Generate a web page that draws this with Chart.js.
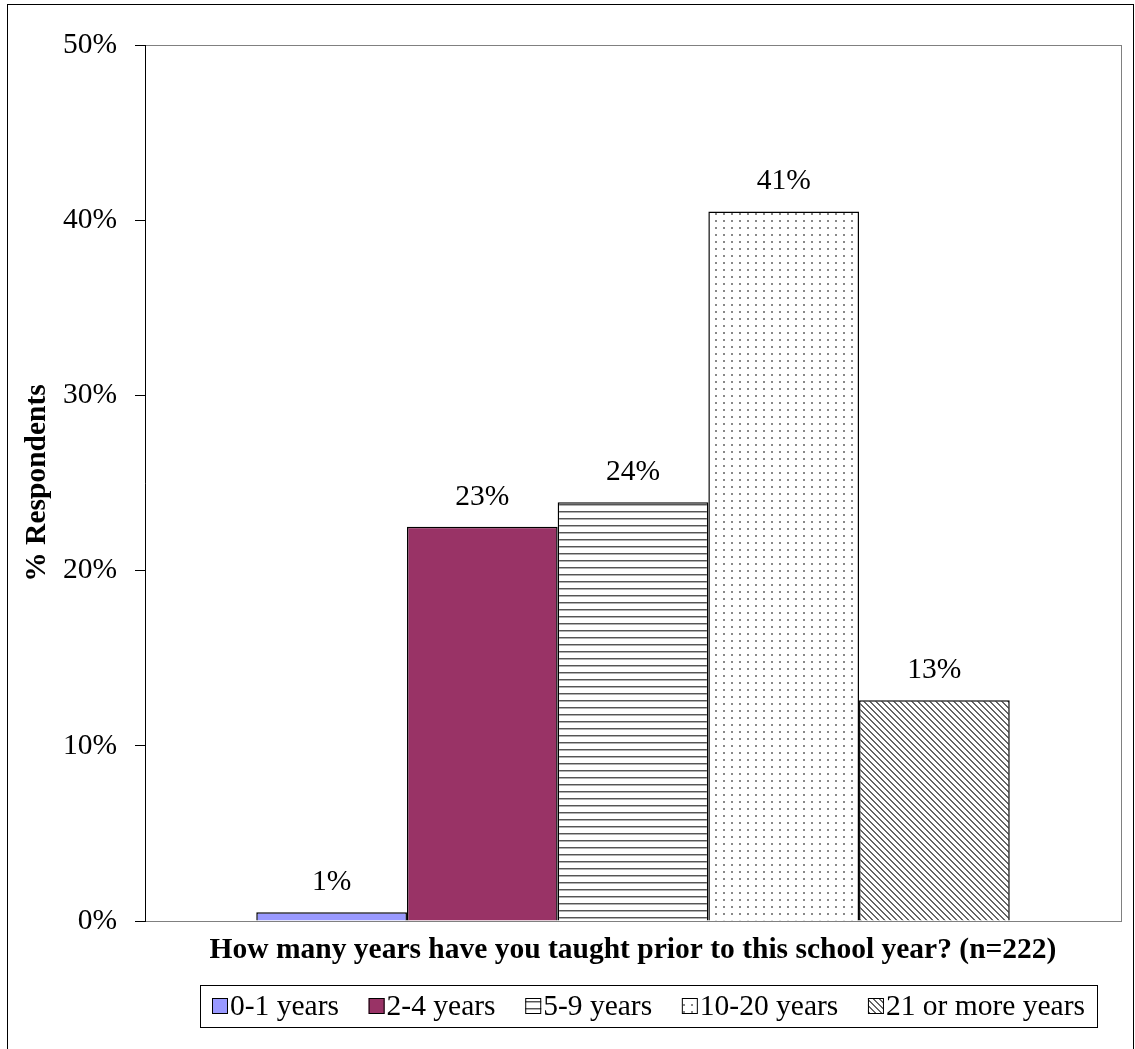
<!DOCTYPE html>
<html lang="en">
<head>
<meta charset="UTF-8" />
<title>Years taught prior to this school year</title>
<script src="https://cdn.jsdelivr.net/npm/chart.js@4/dist/chart.umd.min.js"></script>
<style>
  html, body { margin: 0; padding: 0; background: #fff; }
  #wrap { width: 1135px; height: 1049px; position: relative; }
</style>
</head>
<body>
<div id="wrap"><canvas id="chart" width="1135" height="1049"></canvas></div>
<script>
const categories = ['0-1 years', '2-4 years', '5-9 years', '10-20 years', '21 or more years'];
const percents = [0.5, 22.5, 23.9, 40.5, 12.6];
const yTicks = [0, 10, 20, 30, 40, 50];
const xTitle = 'How many years have you taught prior to this school year? (n=222)';
const yTitle = '% Respondents';

const FONT = '"Liberation Serif", "Times New Roman", serif';
const FS = 29.5;

function makePattern(w, h, draw) {
  const c = document.createElement('canvas');
  c.width = w; c.height = h;
  const g = c.getContext('2d');
  g.fillStyle = '#fff';
  g.fillRect(0, 0, w, h);
  draw(g);
  return document.createElement('canvas').getContext('2d').createPattern(c, 'repeat');
}

const hLines = makePattern(8, 7, (g) => {
  g.fillStyle = '#555'; g.fillRect(0, 0, 8, 1);
  g.fillStyle = '#b0b0b0'; g.fillRect(0, 1, 8, 1);
});
const dots = makePattern(8, 7, (g) => {
  g.fillStyle = '#888'; g.fillRect(3, 3, 2, 2);
});
const diag = makePattern(6, 6, (g) => {
  g.fillStyle = '#666';
  for (let i = 0; i < 6; i++) {
    g.fillRect(i, i, 1, 1);
    g.fillRect((i + 1) % 6, i, 1, 1);
  }
});

const fills = ['#9999ff', '#993366', hLines, dots, diag];

const frame = {
  id: 'frame',
  beforeDraw(chart) {
    const { ctx, chartArea: a } = chart;
    ctx.save();
    ctx.strokeStyle = '#000';
    ctx.lineWidth = 1;
    ctx.strokeRect(7.5, 4.5, 1126, 1080);
    ctx.strokeStyle = '#808080';
    ctx.strokeRect(a.left + 0.5, a.top + 0.5, a.right - a.left, a.bottom - a.top);
    ctx.restore();
  },
  afterDatasetsDraw(chart) {
    const { ctx } = chart;
    ctx.save();
    ctx.font = FS + 'px ' + FONT;
    ctx.fillStyle = '#000';
    ctx.textAlign = 'center';
    ctx.textBaseline = 'middle';
    chart.data.datasets.forEach((ds, i) => {
      const bar = chart.getDatasetMeta(i).data[0];
      ctx.fillText(Math.round(ds.data[0]) + '%', bar.x, bar.y - 30);
    });
    ctx.restore();
  },
  afterDraw(chart) {
    const { ctx } = chart;
    const left = 200, right = 1097, top = 985, bottom = 1027;
    ctx.save();
    ctx.fillStyle = '#fff';
    ctx.strokeStyle = '#000';
    ctx.lineWidth = 1;
    ctx.fillRect(left, top, right - left, bottom - top);
    ctx.strokeRect(left + 0.5, top + 0.5, right - left, bottom - top);
    ctx.font = FS + 'px ' + FONT;
    ctx.textBaseline = 'middle';
    const box = 16, gapText = 2, pad = 12;
    const widths = categories.map((c) => box + gapText + ctx.measureText(c).width);
    const total = widths.reduce((s, w) => s + w, 0);
    const gap = (right - left - 2 * pad - total) / (categories.length - 1);
    let x = left + pad;
    const cy = (top + bottom) / 2;
    categories.forEach((c, i) => {
      ctx.fillStyle = fills[i];
      ctx.fillRect(x, cy - box / 2, box, box);
      ctx.strokeStyle = '#000';
      ctx.strokeRect(x + 0.5, cy - box / 2 + 0.5, box - 1, box - 1);
      ctx.fillStyle = '#000';
      ctx.fillText(c, x + box + gapText, cy + 1);
      x += widths[i] + gap;
    });
    ctx.restore();
  }
};

new Chart(document.getElementById('chart'), {
  type: 'bar',
  data: {
    labels: [''],
    datasets: categories.map((c, i) => ({
      label: c,
      data: [percents[i]],
      backgroundColor: fills[i],
      borderColor: '#000',
      borderWidth: 1.5,
      categoryPercentage: 0.772,
      barPercentage: 1,
    })),
  },
  options: {
    responsive: false,
    animation: false,
    layout: { padding: { top: 45, right: 14, bottom: 68, left: 0 } },
    plugins: {
      legend: { display: false },
      tooltip: { enabled: false },
    },
    scales: {
      x: {
        grid: { display: false },
        border: { color: '#808080' },
        ticks: { display: false },
        afterFit(scale) { scale.height = 60; },
        title: {
          display: true,
          text: xTitle,
          color: '#000',
          font: { family: FONT, size: FS, weight: 'bold' },
          padding: { top: 0, bottom: 13 },
        },
      },
      y: {
        min: 0,
        max: 50,
        afterBuildTicks(scale) { scale.ticks = yTicks.map((v) => ({ value: v })); },
        afterFit(scale) { scale.width = 145; },
        grid: { drawOnChartArea: false, drawTicks: true, tickLength: 10, color: '#000' },
        border: { color: '#000', width: 1 },
        ticks: {
          color: '#000',
          padding: 18,
          font: { family: FONT, size: FS },
          callback: (v) => v + '%',
        },
        title: {
          display: true,
          text: yTitle,
          color: '#000',
          font: { family: FONT, size: FS, weight: 'bold' },
          padding: { top: 20, bottom: 0 },
        },
      },
    },
  },
  plugins: [frame],
});
</script>
</body>
</html>
